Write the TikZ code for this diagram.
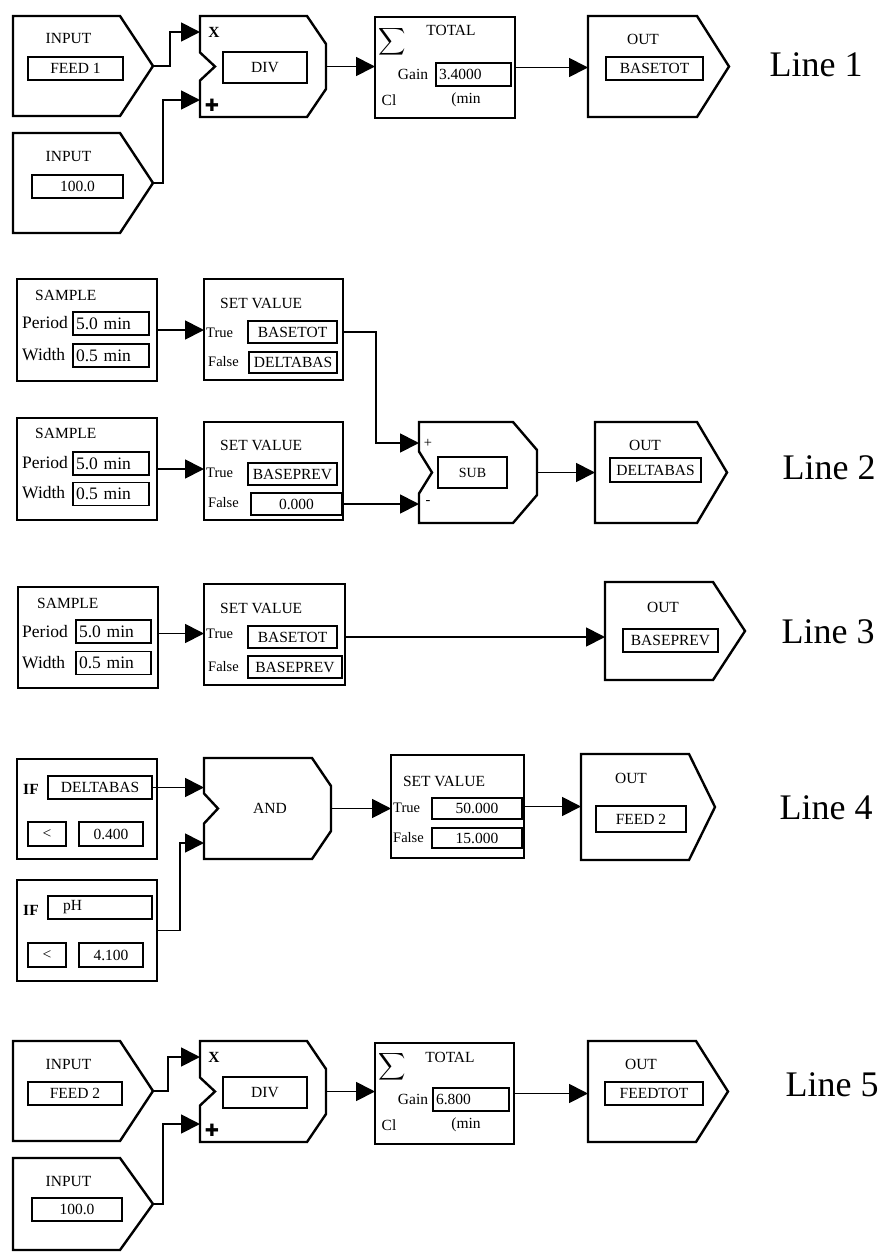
\documentclass[tikz,border=0pt]{standalone}
\usepackage{fontspec}
\setmainfont{Liberation Serif}
\newfontfamily\dingfont{DejaVu Sans}
\usepackage{tikz}
\usetikzlibrary{arrows.meta,positioning,calc}
\newcommand{\fnorm}{\fontsize{15.5}{17}\selectfont}
\newcommand{\fbig}{\fontsize{17.5}{19}\selectfont}
\newcommand{\fsmall}{\fontsize{14.5}{16}\selectfont}
\newcommand{\bigsum}{\scalebox{1.9}{$\displaystyle\sum$}}

\begin{document}
\begin{tikzpicture}[x=1pt,y=-1pt,
  area/.style n args={2}{minimum width=#1,minimum height=#2,inner sep=0pt,outer sep=0pt},
  frame/.style n args={2}{area={#1}{#2},draw,line width=2.4pt},
  blk/.style={line width=2.4pt,line join=miter},
  box/.style={draw,line width=1.8pt,inner sep=0pt,outer sep=0pt,minimum height=23pt,font=\fnorm},
  lbox/.style={box,inner xsep=3pt,align=left},
  lab/.style={inner sep=0pt,font=\fnorm},
  line/.style={inner sep=0pt,font=\fontsize{36}{36}\selectfont},
  conn/.style={line width=1.8pt,-{Triangle[length=19pt,width=19pt]}}]
  \useasboundingbox (0,0) rectangle (881,1253);
  % Line 1
  \node[area={140pt}{100pt}] (in1a) at (83,66) {};
  \node[lab] at (68.5,38.5) {INPUT};
  \node[box,minimum width=95pt] (v1a) at (75.5,68.5) {FEED 1};
  \node[area={140pt}{100pt}] (in1b) at (83,183) {};
  \node[lab] at (68.5,156) {INPUT};
  \node[box,minimum width=91pt] (v1b) at (77.5,186.5) {100.0};
  \node[area={126pt}{101pt}] (div1) at (263,66.5) {};
  \node[lab,font=\fnorm\bfseries] at (214,32) {X};
  \node[lab,font=\dingfont\fontsize{17}{17}\selectfont] at (212,105) {✚};
  \node[box,minimum width=84pt,minimum height=31pt] (op1) at (265,67.5) {DIV};
  \node[frame={140pt}{101pt}] (tot1) at (445,67.5) {};
  \node[lab] at (392.5,41.5) {\bigsum};
  \node[lab] at (451,30) {TOTAL};
  \node[lab] at (413,74) {Gain};
  \node[lbox,text width=69pt] (g1) at (473.5,74.5) {3.4000};
  \node[lab] at (389,100) {Cl}; \node[lab] at (466,100) {(min};
  \node[area={141pt}{101pt}] (out1) at (658.5,66.5) {};
  \node[lab] at (643,39) {OUT};
  \node[box,minimum width=97pt] (o1) at (654.5,68.5) {BASETOT};
  \node[line] (l1) at (816,65) {Line 1};
  \draw[conn] (in1a.east) -- ++(17,0) |- ([yshift=34.5pt]div1.west);
  \draw[conn] (in1b.east) -- ++(10,0) |- ([yshift=-33.5pt]div1.west);
  \draw[conn] (div1.east) -- (div1.east -| tot1.west);
  \draw[conn] (tot1.east) -- (tot1.east -| out1.west);
  % Line 2
  \node[frame={140pt}{102pt}] (smp2a) at (87,330) {};
  \node[lab,anchor=west] at (35,295) {SAMPLE};
  \node[lab,anchor=west,font=\fbig] at (22,323) {Period};
  \node[lbox,font=\fbig,text width=70pt] (p2a) at (111,323.5) {5.0 min};
  \node[lab,anchor=west,font=\fbig] at (22,355) {Width};
  \node[lbox,font=\fbig,text width=70pt] (w2a) at (111,355.5) {0.5 min};
  \node[frame={139pt}{101pt}] (set2a) at (273.5,329.5) {};
  \node[lab,anchor=west] at (220,303) {SET VALUE};
  \node[lab,anchor=west,font=\fsmall] at (206,333) {True};
  \node[box,minimum width=89pt,minimum height=22pt] (t2a) at (292.5,332) {BASETOT};
  \node[lab,anchor=west,font=\fsmall] at (208,362) {False};
  \node[box,minimum width=88pt,minimum height=21pt] (f2a) at (293,362.5) {DELTABAS};
  \node[frame={140pt}{102pt}] (smp2b) at (87,469) {};
  \node[lab,anchor=west] at (35,433) {SAMPLE};
  \node[lab,anchor=west,font=\fbig] at (22,463) {Period};
  \node[lbox,font=\fbig,text width=70pt] (p2b) at (111,463.5) {5.0 min};
  \node[lab,anchor=west,font=\fbig] at (22,493) {Width};
  \node[lbox,font=\fbig,text width=70pt] (w2b) at (111,494) {0.5 min};
  \node[frame={139pt}{98pt}] (set2b) at (273.5,471) {};
  \node[lab,anchor=west] at (220,445) {SET VALUE};
  \node[lab,anchor=west,font=\fsmall] at (206,473) {True};
  \node[box,minimum width=89pt,minimum height=22pt] (t2b) at (292.5,474) {BASEPREV};
  \node[lab,anchor=west,font=\fsmall] at (208,503) {False};
  \node[box,minimum width=91pt,minimum height=22pt] (f2b) at (296.5,504) {0.000};
  \node[area={118pt}{101pt}] (sub2) at (478,472.5) {};
  \node[lab,font=\fsmall] at (428,443) {+};
  \node[lab,font=\fsmall] at (428,503) {-};
  \node[box,minimum width=69pt,minimum height=31pt,font=\fontsize{14}{15}\selectfont] (op2) at (472.5,472.5) {SUB};
  \node[area={132pt}{101pt}] (out2) at (661,472.5) {};
  \node[lab] at (645,445) {OUT};
  \node[box,minimum width=91pt,minimum height=24pt] (o2) at (655.5,470) {DELTABAS};
  \node[line] (l2) at (829,468) {Line 2};
  \draw[conn] (smp2a.east) -- (smp2a.east -| set2a.west);
  \draw[conn] (smp2b.east) -- (smp2b.east -| set2b.west);
  \draw[conn] (t2a -| set2a.east) -- ++(33,0) |- ([yshift=29.5pt]sub2.west);
  \draw[conn] (f2b.east) -- (f2b.east -| sub2.west);
  \draw[conn] (sub2.east) -- (sub2.east -| out2.west);
  % Line 3
  \node[frame={140pt}{101pt}] (smp3) at (88,637.5) {};
  \node[lab,anchor=west] at (37,603) {SAMPLE};
  \node[lab,anchor=west,font=\fbig] at (22,632) {Period};
  \node[lbox,font=\fbig,text width=69pt] (p3) at (113.5,631.5) {5.0 min};
  \node[lab,anchor=west,font=\fbig] at (22,663) {Width};
  \node[lbox,font=\fbig,text width=69pt] (w3) at (113.5,663) {0.5 min};
  \node[frame={141pt}{101pt}] (set3) at (274.5,634.5) {};
  \node[lab,anchor=west] at (220,608) {SET VALUE};
  \node[lab,anchor=west,font=\fsmall] at (206,634) {True};
  \node[box,minimum width=89pt,minimum height=22pt] (t3) at (292.5,637) {BASETOT};
  \node[lab,anchor=west,font=\fsmall] at (208,667) {False};
  \node[box,minimum width=94pt,minimum height=22pt] (f3) at (295,667) {BASEPREV};
  \node[area={140pt}{98pt}] (out3) at (675,631) {};
  \node[lab] at (663,607) {OUT};
  \node[box,minimum width=95pt] (o3) at (670.5,640.5) {BASEPREV};
  \node[line] (l3) at (828,632) {Line 3};
  \draw[conn] ([yshift=4pt]smp3.east) -- ([yshift=4pt]smp3.east -| set3.west);
  \draw[conn] (t3 -| set3.east) -- (t3 -| out3.west);
  % Line 4
  \node[frame={140pt}{100pt}] (if4a) at (87,809) {};
  \node[lab,font=\fnorm\bfseries] at (31,789) {IF};
  \node[box,minimum width=104pt] (d4) at (100,787.5) {DELTABAS};
  \node[box,minimum width=38pt,minimum height=24pt] (lt4a) at (47,834) {<};
  \node[box,minimum width=64pt,minimum height=24pt] (c4a) at (111,834) {0.400};
  \node[frame={140pt}{101pt}] (if4b) at (87,930.5) {};
  \node[lab,font=\fnorm\bfseries] at (31,910) {IF};
  \node[lbox,inner xsep=15pt,text width=74pt] (ph4) at (100,907.5) {pH};
  \node[box,minimum width=38pt,minimum height=24pt] (lt4b) at (47,955) {<};
  \node[box,minimum width=64pt,minimum height=24pt] (c4b) at (111,955) {4.100};
  \node[area={127pt}{101pt}] (and4) at (267.5,808.5) {};
  \node[lab] at (270,808) {AND};
  \node[frame={133pt}{103pt}] (sv4) at (457.5,806.5) {};
  \node[lab] at (444,781) {SET VALUE};
  \node[lab,anchor=west,font=\fsmall] at (393,808) {True};
  \node[box,minimum width=90pt,minimum height=21pt] (t4) at (477,808.5) {50.000};
  \node[lab,anchor=west,font=\fsmall] at (393,838) {False};
  \node[box,minimum width=90pt,minimum height=20pt] (f4) at (477,838) {15.000};
  \node[area={134pt}{106pt}] (out4) at (648,807) {};
  \node[lab] at (631,778) {OUT};
  \node[box,minimum width=90pt,minimum height=26pt] (o4) at (641,819) {FEED 2};
  \node[line] (l4) at (826,808) {Line 4};
  \draw[conn] (d4.east) -- (d4.east -| and4.west);
  \draw[conn] (if4b.east) -- ++(23,0) |- ([yshift=-34.5pt]and4.west);
  \draw[conn] (and4.east) -- (and4.east -| sv4.west);
  \draw[conn] (sv4.east) -- (sv4.east -| out4.west);
  % Line 5
  \node[area={140pt}{100pt}] (in5a) at (83,1091) {};
  \node[lab] at (68.5,1064) {INPUT};
  \node[box,minimum width=94pt] (v5a) at (75,1093.5) {FEED 2};
  \node[area={140pt}{92pt}] (in5b) at (83,1204) {};
  \node[lab] at (68.5,1181) {INPUT};
  \node[box,minimum width=90pt] (v5b) at (77,1209.5) {100.0};
  \node[area={126pt}{101pt}] (div5) at (263,1091.5) {};
  \node[lab,font=\fnorm\bfseries] at (214,1057) {X};
  \node[lab,font=\dingfont\fontsize{17}{17}\selectfont] at (212,1130) {✚};
  \node[box,minimum width=84pt,minimum height=31pt] (op5) at (265,1092.5) {DIV};
  \node[frame={139pt}{101pt}] (tot5) at (444.5,1093.5) {};
  \node[lab] at (392.5,1067) {\bigsum};
  \node[lab] at (450,1057) {TOTAL};
  \node[lab] at (413,1099) {Gain};
  \node[lbox,text width=70pt] (g5) at (471,1099.5) {6.800};
  \node[lab] at (389,1125) {Cl}; \node[lab] at (466,1125) {(min};
  \node[area={140pt}{101pt}] (out5) at (658,1091.5) {};
  \node[lab] at (641,1064) {OUT};
  \node[box,minimum width=98pt] (o5) at (654,1093.5) {FEEDTOT};
  \node[line] (l5) at (832,1085) {Line 5};
  \draw[conn] (in5a.east) -- ++(15,0) |- ([yshift=34.5pt]div5.west);
  \draw[conn] (in5b.east) -- ++(10,0) |- ([yshift=-32.5pt]div5.west);
  \draw[conn] (div5.east) -- (div5.east -| tot5.west);
  \draw[conn] (tot5.east) -- (tot5.east -| out5.west);
  % outlines
  \foreach \n/\d in {in1a/33pt,in1b/33pt,out1/32pt,out2/30pt,out3/32pt,out4/26pt,in5a/33pt,in5b/33pt,out5/32pt}
    \draw[blk] (\n.north west) -- ([xshift=-\d]\n.north east) -- (\n.east) -- ([xshift=-\d]\n.south east) -- (\n.south west) -- cycle;
  \foreach \n/\c/\h/\d in {div1/19pt/14pt/15pt,sub2/24pt/21pt/13pt,and4/19pt/15pt/14pt,div5/19pt/14pt/15pt}
    \draw[blk] (\n.north west) -- ([xshift=-\c]\n.north east) -- ([yshift=-28pt]\n.north east) -- ([yshift=28pt]\n.south east)
      -- ([xshift=-\c]\n.south east) -- (\n.south west) -- ([yshift=-\h]\n.west) -- ([xshift=\d]\n.west) -- ([yshift=\h]\n.west) -- cycle;
\end{tikzpicture}
\end{document}
